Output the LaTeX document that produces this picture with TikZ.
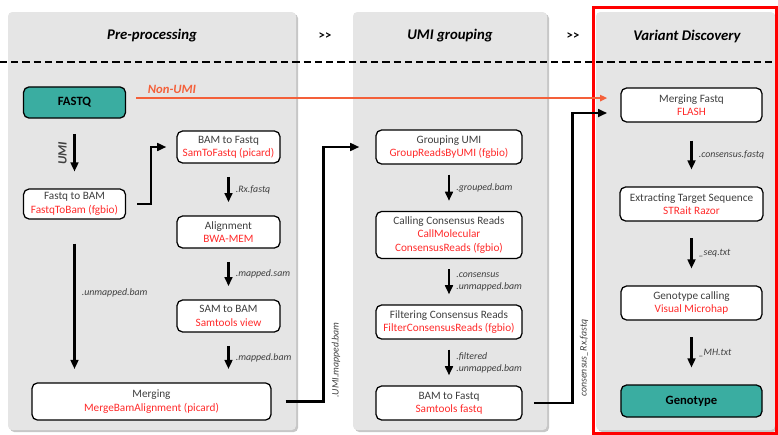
\documentclass[tikz,border=0pt]{standalone}
\usepackage{fontspec}
\setmainfont{Carlito}
\usetikzlibrary{arrows.meta,positioning}
\definecolor{panelgray}{HTML}{E5E5E5}
\definecolor{tealbox}{HTML}{3AADA1}
\definecolor{toolred}{HTML}{FF2B2B}
\definecolor{nonumi}{HTML}{F4603A}
\definecolor{textgray}{HTML}{3F3F3F}
\newcommand{\tool}[1]{{\color{toolred}#1}}

\begin{document}
\begin{tikzpicture}[x=0.025cm,y=-0.025cm,>={Triangle[length=6.5pt,width=5.5pt]},
                    font=\fontsize{8}{9.5}\selectfont]
	  \tikzstyle{panel}=[fill=panelgray,rounded corners=3pt]
	  \tikzstyle{shade}=[fill=black!22,rounded corners=3pt]
	  \tikzstyle{proc}=[draw=black,fill=white,line width=0.9pt,rounded corners=4pt,
	                    align=center,text=textgray,inner sep=1pt]
	  \tikzstyle{io}=[proc,fill=tealbox,text=black,font=\fontsize{9}{11}\selectfont\bfseries]
	  \tikzstyle{flow}=[->,line width=1.7pt,shorten <=0.33cm,shorten >=0.33cm]
	  \tikzstyle{ext}=[font=\fontsize{7}{8.5}\selectfont\itshape,text=textgray,align=left]
	  \tikzstyle{title}=[font=\fontsize{10.5}{12}\selectfont\bfseries\itshape]
	  \tikzstyle{sep}=[font=\fontsize{9}{10}\selectfont\bfseries]

	  \useasboundingbox (0,0) rectangle (778,435);

	  % panels
	  \foreach \xa/\xb in {8/296,353/547,596/775}{
	    \fill[shade] (\xa+2,14) rectangle (\xb+2,432);
	    \fill[panel] (\xa,12) rectangle (\xb,430);
	  }
	  \draw[line width=1pt,dash pattern=on 5pt off 3pt] (0,62) -- (778,62);
	  \draw[red,line width=2.2pt] (593.5,7.5) rectangle (776.5,433.5);

	  \node[title] (pre)  at (152,36) {Pre-processing};
	  \node[title] (umig) at (450,36) {UMI grouping};
	  \node[title] (vard) at (687,36) {Variant Discovery};
	  \node[sep]   (sep1) at (325,36) {>{}>};
	  \node[sep]   (sep2) at (573,36) {>{}>};

	  % pre-processing
	  \node[io,minimum width=2.55cm,minimum height=0.78cm]     (fastq) at (74.5,102.5) {FASTQ};
	  \node[proc,minimum width=2.55cm,minimum height=0.75cm]   (f2b)   at (74.5,204)   {Fastq to BAM\\\tool{FastqToBam (fgbio)}};
	  \node[proc,minimum width=2.575cm,minimum height=0.8cm]   (b2f)   at (228.5,147)  {BAM to Fastq\\\tool{SamToFastq (picard)}};
	  \node[proc,minimum width=2.575cm,minimum height=0.8cm]   (align) at (228.5,232)  {Alignment\\\tool{BWA-MEM}};
	  \node[proc,minimum width=2.575cm,minimum height=0.8cm]   (s2b)   at (228.5,316)  {SAM to BAM\\\tool{Samtools view}};
	  \node[proc,minimum width=5.975cm,minimum height=0.93cm]  (merge) at (151.5,401.5) {Merging\\\tool{MergeBamAlignment (picard)}};

	  % UMI grouping
	  \node[proc,minimum width=3.65cm,minimum height=0.85cm]   (grp)   at (449,147) {Grouping UMI\\\tool{GroupReadsByUMI (fgbio)}};
	  \node[proc,minimum width=3.65cm,minimum height=1.175cm]  (call)  at (449,235) {Calling Consensus Reads\\\tool{CallMolecular}\\\tool{ConsensusReads (fgbio)}};
	  \node[proc,minimum width=3.65cm,minimum height=0.85cm]   (filt)  at (449,322) {Filtering Consensus Reads\\\tool{FilterConsensusReads (fgbio)}};
	  \node[proc,minimum width=3.65cm,minimum height=0.85cm]   (b2f2)  at (449,403) {BAM to Fastq\\\tool{Samtools fastq}};

	  % variant discovery
	  \node[proc,minimum width=3.525cm,minimum height=0.85cm]  (mfq)    at (691.5,105) {Merging Fastq\\\tool{FLASH}};
	  \node[proc,minimum width=3.575cm,minimum height=0.85cm]  (target) at (691.5,204) {Extracting Target Sequence\\\tool{STRait Razor}};
	  \node[proc,minimum width=3.525cm,minimum height=0.85cm]  (gtc)    at (691.5,303) {Genotype calling\\\tool{Visual Microhap}};
	  \node[io,minimum width=3.525cm,minimum height=0.8cm]     (gt)     at (691.5,401) {Genotype};

	  \path (fastq) -- node[midway,xshift=-0.3cm,rotate=90,font=\fontsize{9}{10}\selectfont\bfseries\itshape,text=textgray] (umilbl) {UMI} (f2b);
	  \draw[flow,shorten <=0.38cm,shorten >=0.42cm] (fastq) -- (f2b);
	  \draw[flow] (b2f) -- node[ext,right=1pt] {.Rx.fastq} (align);
	  \draw[flow] (align) -- node[ext,right=1pt] {.mapped.sam} (s2b);
	  \draw[flow] (s2b) -- node[ext,right=1pt] {.mapped.bam} (s2b |- merge.north);
	  \draw[flow,shorten <=0.6cm] (f2b) -- node[ext,right=1pt,pos=0.45] {.unmapped.bam} (f2b |- merge.north);
	  \draw[flow,shorten <=0.28cm,shorten >=0.25cm] (f2b.east) -- ++(25,0) |- (b2f.west);

	  \draw[flow,shorten <=0.35cm,shorten >=0.4cm] (merge.east) -- ++(52,0) |- (grp.west);
	  \node[ext,rotate=90] (umimap) at (336,360) {.UMI.mapped.bam};
	  \draw[flow,shorten <=0.25cm,shorten >=0.25cm] (grp) -- node[ext,right=1pt] {.grouped.bam} (call);
	  \draw[flow,shorten <=0.25cm,shorten >=0.25cm] (call) -- node[ext,right=1pt] {.consensus\\.unmapped.bam} (filt);
	  \draw[flow,shorten <=0.25cm,shorten >=0.25cm] (filt) -- node[ext,right=1pt] {.filtered\\.unmapped.bam} (b2f2);

	  \draw[flow,shorten <=0.28cm,shorten >=0.33cm] (b2f2.east) -- ++(50,0) |- ([yshift=-0.2cm]mfq.west);
	  \node[ext,rotate=90] (rxfq) at (584,358) {consensus\_Rx.fastq};

	  \coordinate (nu) at ([yshift=0.11cm]fastq.east);
	  \draw[->,>={Triangle[length=5pt,width=4.5pt]},nonumi,line width=1.1pt,shorten <=0.25cm,shorten >=0.33cm] (nu) -- (nu -| mfq.west);
	  \node[font=\fontsize{9}{10}\selectfont\bfseries\itshape,text=nonumi] (nulbl) at (172,89) {Non-UMI};

	  \draw[flow,shorten <=0.45cm,shorten >=0.42cm] (mfq) -- node[ext,right=1pt] {.consensus.fastq} (target);
	  \draw[flow,shorten <=0.42cm,shorten >=0.42cm] (target) -- node[ext,right=1pt] {\_seq.txt} (gtc);
	  \draw[flow,shorten <=0.42cm,shorten >=0.42cm] (gtc) -- node[ext,right=1pt] {\_MH.txt} (gt);
	\end{tikzpicture}
\end{document}
